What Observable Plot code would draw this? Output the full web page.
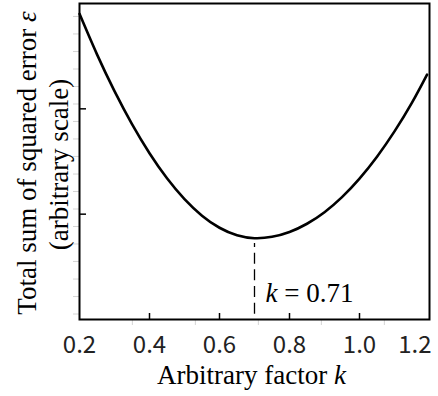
<!DOCTYPE html>
<html>
<head>
<meta charset="utf-8">
<script src="https://cdn.jsdelivr.net/npm/d3@7"></script>
<script src="https://cdn.jsdelivr.net/npm/@observablehq/plot@0.6"></script>
<style>
  html, body { margin: 0; padding: 0; background: #fff; }
  #chart { width: 438px; height: 396px; }
</style>
</head>
<body>
<div id="chart"></div>
<script>
// Curve: arbitrary factor k vs total squared error (arbitrary scale)
const kValues   = [0.20, 0.25, 0.30, 0.35, 0.40, 0.45, 0.50, 0.55, 0.60, 0.65, 0.70, 0.75, 0.80, 0.85, 0.90, 0.95, 1.00, 1.05, 1.10, 1.15, 1.193];
const errValues = [2.902, 2.517, 2.168, 1.855, 1.579, 1.341, 1.143, 0.986, 0.871, 0.800, 0.772, 0.785, 0.831, 0.909, 1.019, 1.162, 1.338, 1.546, 1.786, 2.059, 2.325];

// Axes
const xTicks = [0.2, 0.4, 0.6, 0.8, 1.0, 1.2];
const xTickLabels = ["0.2", "0.4", "0.6", "0.8", "1.0", "1.2"];
const xInnerTicks = [0.4, 0.6, 0.8, 1.0];
const yTicks = [1, 2];
// faint ghost ticks visible in the picture
const ghostXTicks = [0.351, 0.531, 0.711, 0.891, 1.071];
const ghostYTicks = [2.877, 2.711, 2.544, 2.378, 2.212, 2.046, 1.880, 1.714, 1.548, 1.381, 1.215, 1.049, 0.883, 0.717, 0.551, 0.384, 0.218, 0.052];

// Annotation
const kMin = 0.70;
const kMinLabel = "k = 0.71";
const xTitle = "Arbitrary factor k";
const yTitle1 = "Total sum of squared error ε";
const yTitle2 = "(arbitrary scale)";

const data = kValues.map((k, i) => ({k, e: errValues[i]}));
const minErr = d3.min(errValues);

const serif = "Liberation Serif, Times New Roman, Times, serif";
const sans = "Noto Sans CJK JP, Noto Sans, sans-serif";

const chart = Plot.plot({
  width: 438,
  height: 396,
  marginLeft: 79,
  marginRight: 9,
  marginTop: 3,
  marginBottom: 77,
  style: {background: "#fff", overflow: "visible"},
  x: {domain: [0.2, 1.2], axis: null},
  y: {domain: [0, 3], axis: null},
  marks: [
    Plot.axisX(ghostXTicks, {anchor: "bottom", label: null, tickSize: 6, tickFormat: () => "", stroke: "#d4d4d4", strokeWidth: 1}),
    Plot.axisY(ghostYTicks, {anchor: "left", label: null, tickSize: 6, tickFormat: () => "", stroke: "#d4d4d4", strokeWidth: 1}),
    Plot.axisX(xInnerTicks, {anchor: "bottom", label: null, tickSize: -6, tickFormat: () => "", stroke: "#000", strokeWidth: 1.5}),
    Plot.axisY(yTicks, {anchor: "left", label: null, tickSize: -7, tickFormat: () => "", stroke: "#000", strokeWidth: 1.5}),
    Plot.frame({stroke: "#000", strokeWidth: 2}),
    Plot.ruleX([kMin], {y1: 0.05, y2: minErr - 0.05, stroke: "#000", strokeWidth: 1.3, strokeDasharray: "11 5.7"}),
    Plot.line(data, {x: "k", y: "e", curve: "natural", stroke: "#000", strokeWidth: 2.6}),
    Plot.text(xTicks.slice(0, 5), {x: d => d, text: (d, i) => xTickLabels[i], frameAnchor: "bottom", lineAnchor: "bottom", dy: 33, fontFamily: sans, fontSize: 24, fill: "#222"}),
    Plot.text(xTicks.slice(5), {x: d => d, text: (d, i) => xTickLabels[5 + i], frameAnchor: "bottom", lineAnchor: "bottom", textAnchor: "end", dy: 33, dx: 2, fontFamily: sans, fontSize: 24, fill: "#222"}),
    Plot.text([kMinLabel], {x: kMin, text: d => d, frameAnchor: "bottom", lineAnchor: "bottom", textAnchor: "start", dx: 11, dy: -18, fontFamily: serif, fontSize: 27, fill: "#000"}),
    Plot.text([xTitle], {text: d => d, frameAnchor: "bottom", lineAnchor: "bottom", textAnchor: "middle", dx: -3, dy: 64, fontFamily: serif, fontSize: 27, fill: "#000"}),
    Plot.text([yTitle1], {text: d => d, frameAnchor: "left", lineAnchor: "bottom", textAnchor: "middle", rotate: -90, dx: -44, dy: 1.5, fontFamily: serif, fontSize: 27, fill: "#000"}),
    Plot.text([yTitle2], {text: d => d, frameAnchor: "left", lineAnchor: "bottom", textAnchor: "middle", rotate: -90, dx: -12, dy: 3, fontFamily: serif, fontSize: 27, fill: "#000"})
  ]
});

// enforce fonts and italicise the symbols k and ε inside the texts
d3.select(chart).selectAll("text").each(function () {
  const el = d3.select(this);
  const t = this.textContent;
  if (xTickLabels.includes(t)) {
    el.style("font-family", "'Noto Sans CJK JP', 'Noto Sans', sans-serif");
    return;
  }
  if (!t) return;
  el.style("font-family", "'Liberation Serif', 'Times New Roman', serif");
  const parts = t.match(/^(k)( = .*)$/) || t.match(/^(.* )([kε])$/);
  if (!parts) return;
  el.text(null);
  if (t === kMinLabel) {
    el.append("tspan").style("font-style", "italic").text(parts[1]);
    el.append("tspan").text(parts[2]);
  } else {
    el.append("tspan").text(parts[1]);
    el.append("tspan").style("font-style", "italic").text(parts[2]);
  }
});

document.getElementById("chart").appendChild(chart);
</script>
</body>
</html>
